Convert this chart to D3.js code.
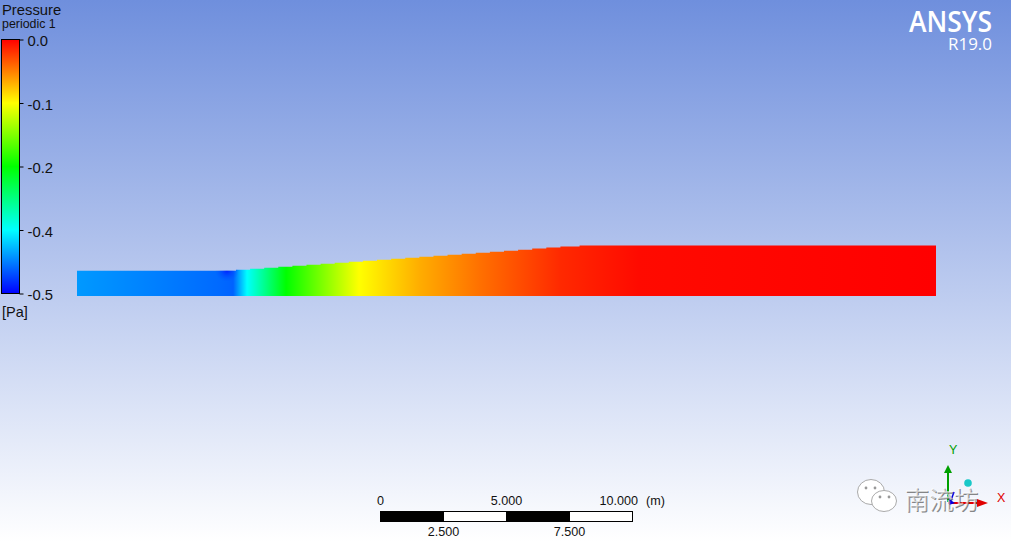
<!DOCTYPE html>
<html>
<head>
<meta charset="utf-8">
<script src="https://cdn.jsdelivr.net/npm/d3@7"></script>
<style>
    html, body { margin: 0; padding: 0; overflow: hidden; }
    text { font-family: "Liberation Sans", Arial, sans-serif; }
</style>
</head>
<body>
<svg id="chart" width="1011" height="542"></svg>
<script>
// pressure along the duct, metres from the inlet
const stationX = [0, 2.9, 5.6, 6.2, 6.5, 6.75, 8.3, 11.2, 13.6, 16, 19.2, 22.3, 34.1];
const stationP = [-0.425, -0.437, -0.448, -0.452, -0.41, -0.375, -0.25, -0.125, -0.085, -0.055, -0.02, -0.005, 0];

// upper wall, the mesh makes it a staircase
const wallX = [0, 6.31, 6.87, 7.43, 7.99, 8.55, 9.11, 9.67, 10.23, 10.79, 11.35, 11.91, 12.47, 13.03, 13.59,
    14.15, 14.71, 15.27, 15.83, 16.39, 16.95, 17.51, 18.07, 18.63, 19.19, 19.95, 34.1];
const wallH = [1, 1.04, 1.08, 1.12, 1.16, 1.2, 1.24, 1.28, 1.32, 1.36, 1.4, 1.44, 1.48, 1.52, 1.56,
    1.6, 1.64, 1.68, 1.72, 1.76, 1.8, 1.84, 1.88, 1.92, 1.96, 2, 2];

// legend
const legendValues = [0, -0.125, -0.25, -0.375, -0.5];
const legendLabels = ['0.0', '-0.1', '-0.2', '-0.4', '-0.5'];
const legendColors = ['#ff0000', '#ffff00', '#00ff00', '#00ffff', '#0000ff'];

// scale bar
const barStops = [0, 2.5, 5, 7.5, 10];
const barTop = ['0', '5.000'];
const barBottom = ['2.500', '7.500'];

const svg = d3.select('#chart');
const defs = svg.append('defs');

const color = d3.scaleLinear().domain(legendValues).range(legendColors).clamp(true);
const xM = d3.scaleLinear().domain([0, 34.1]).range([77, 936]);
const yM = d3.scaleLinear().domain([0, 2]).range([296, 245.6]);
const yLegend = d3.scaleLinear().domain([0, -0.5]).range([39.5, 293.5]);
const xBar = d3.scaleLinear().domain([0, 10]).range([380.5, 632.5]);

// background
const bg = defs.append('linearGradient').attr('id', 'bg').attr('x1', 0).attr('x2', 0).attr('y1', 0).attr('y2', 1);
bg.append('stop').attr('offset', 0).attr('stop-color', '#6f8fdd');
bg.append('stop').attr('offset', 1).attr('stop-color', '#ffffff');
svg.append('rect').attr('width', 1011).attr('height', 542).attr('fill', 'url(#bg)');

// duct contour
const field = defs.append('linearGradient').attr('id', 'field')
    .attr('gradientUnits', 'userSpaceOnUse')
    .attr('x1', xM(0)).attr('x2', xM(34.1)).attr('y1', 0).attr('y2', 0);
field.selectAll('stop').data(stationX).enter().append('stop')
    .attr('offset', d => d / 34.1)
    .attr('stop-color', (d, i) => color(stationP[i]));

const spot = defs.append('radialGradient').attr('id', 'spot');
spot.append('stop').attr('offset', 0).attr('stop-color', '#0018ff').attr('stop-opacity', 0.85);
spot.append('stop').attr('offset', 1).attr('stop-color', '#0050ff').attr('stop-opacity', 0);

const wallPts = wallX.map((d, i) => [d, wallH[i]]);
const duct = d3.area().x(d => xM(d[0])).y0(yM(0)).y1(d => yM(d[1])).curve(d3.curveStepAfter);
defs.append('clipPath').attr('id', 'ductClip').append('path').attr('d', duct(wallPts));

svg.append('path').attr('d', duct(wallPts)).attr('fill', 'url(#field)');
svg.append('ellipse')
    .attr('cx', xM(5.95)).attr('cy', yM(1)).attr('rx', 12).attr('ry', 11)
    .attr('fill', 'url(#spot)').attr('clip-path', 'url(#ductClip)');

// legend bar
const legendGrad = defs.append('linearGradient').attr('id', 'legend').attr('x1', 0).attr('x2', 0).attr('y1', 0).attr('y2', 1);
legendGrad.selectAll('stop').data(legendValues).enter().append('stop')
    .attr('offset', (d, i) => i / (legendValues.length - 1))
    .attr('stop-color', d => color(d));

svg.append('rect')
    .attr('x', 1.5).attr('y', yLegend(0)).attr('width', 18).attr('height', yLegend(-0.5) - yLegend(0))
    .attr('fill', 'url(#legend)').attr('stroke', '#000');

const legendAxis = d3.axisRight(yLegend)
    .tickValues(legendValues)
    .tickFormat((d, i) => legendLabels[i])
    .tickSize(4).tickPadding(4);
const gLegend = svg.append('g').attr('transform', 'translate(19.5,0)').call(legendAxis);
gLegend.select('.domain').remove();
gLegend.selectAll('text').attr('font-size', 14.8).attr('fill', '#111').attr('y', 1.5).style('font-family', '"Liberation Sans"');

svg.append('text').attr('x', 2).attr('y', 15).attr('font-size', 14.8).attr('fill', '#111').text('Pressure');
svg.append('text').attr('x', 2).attr('y', 28).attr('font-size', 12.4).attr('fill', '#111').text('periodic 1');
svg.append('text').attr('x', 2).attr('y', 317).attr('font-size', 14.5).attr('fill', '#111').text('[Pa]');

// logo
svg.append('text').attr('x', 909).attr('y', 32).attr('font-size', 28).attr('font-weight', 600)
    .attr('fill', '#fff').attr('textLength', 83).attr('lengthAdjust', 'spacingAndGlyphs')
    .style('font-family', '"Open Sans"').text('ANSYS');
svg.append('text').attr('x', 948).attr('y', 50).attr('font-size', 16.5)
    .attr('fill', '#fff').attr('textLength', 44).attr('lengthAdjust', 'spacingAndGlyphs')
    .style('font-family', '"Open Sans"').text('R19.0');

// scale bar
const barY = 511.5, barH = 10;
svg.selectAll('.seg').data(barStops.slice(1)).enter().append('rect')
    .attr('class', 'seg')
    .attr('x', (d, i) => xBar(barStops[i]))
    .attr('y', barY)
    .attr('width', (d, i) => xBar(d) - xBar(barStops[i]))
    .attr('height', barH)
    .attr('fill', (d, i) => i % 2 ? '#fff' : '#000')
    .attr('stroke', '#000');

svg.selectAll('.barTop').data(barTop).enter().append('text')
    .attr('class', 'barTop')
    .attr('x', (d, i) => xBar(i * 5))
    .attr('y', 505).attr('font-size', 12.6).attr('fill', '#111').attr('text-anchor', 'middle')
    .text(d => d);
svg.append('text').attr('x', xBar(10) + 5.5).attr('y', 505).attr('font-size', 12.6).attr('fill', '#111')
    .attr('text-anchor', 'end').text('10.000');
svg.append('text').attr('x', 646).attr('y', 505).attr('font-size', 12.6).attr('fill', '#111').text('(m)');
svg.selectAll('.barBottom').data(barBottom).enter().append('text')
    .attr('class', 'barBottom')
    .attr('x', (d, i) => xBar(2.5 + i * 5))
    .attr('y', 536).attr('font-size', 12.6).attr('fill', '#111').attr('text-anchor', 'middle')
    .text(d => d);

// triad
const triad = svg.append('g');
triad.append('line').attr('x1', 948).attr('y1', 502).attr('x2', 948).attr('y2', 473)
    .attr('stroke', '#00a000').attr('stroke-width', 2);
triad.append('path').attr('d', 'M948,465L944,473L952,473Z').attr('fill', '#00a000');
triad.append('line').attr('x1', 948).attr('y1', 503).attr('x2', 978).attr('y2', 503)
    .attr('stroke', '#e00000').attr('stroke-width', 2);
triad.append('path').attr('d', 'M988,503L977,499L977,507Z').attr('fill', '#e00000');
triad.append('line').attr('x1', 954).attr('y1', 492).attr('x2', 950).attr('y2', 503)
    .attr('stroke', '#0000e0').attr('stroke-width', 1.5);
triad.append('path').attr('d', 'M949,499L955,503L949,505Z').attr('fill', '#0000e0');
triad.append('circle').attr('cx', 968).attr('cy', 483).attr('r', 3.8).attr('fill', '#18c8c8');
triad.append('text').attr('x', 949).attr('y', 454).attr('font-size', 12.5).attr('fill', '#00a000').text('Y');
triad.append('text').attr('x', 997).attr('y', 502).attr('font-size', 12.5).attr('fill', '#e00000').text('X');

// watermark sits over the triad
const wm = svg.append('g');
[[871, 492, 13.5, 12.5], [884, 501, 12.5, 10.5]].forEach(b => {
    wm.append('ellipse').attr('cx', b[0]).attr('cy', b[1]).attr('rx', b[2]).attr('ry', b[3])
        .attr('fill', '#fff').attr('stroke', '#aaa').attr('stroke-width', 1);
});
[[866, 488], [875, 488], [880, 497], [889, 497]].forEach(e => {
    wm.append('circle').attr('cx', e[0]).attr('cy', e[1]).attr('r', 1.4).attr('fill', '#999');
});
wm.append('text').attr('x', 905.5).attr('y', 509.5).attr('font-size', 24.5)
    .attr('fill', '#666').attr('fill-opacity', 0.8).style('font-family', '"Noto Sans CJK SC"').text('南流坊');
wm.append('text').attr('x', 904.5).attr('y', 508.5).attr('font-size', 24.5)
    .attr('fill', '#fff').attr('fill-opacity', 0.6).style('font-family', '"Noto Sans CJK SC"').text('南流坊');
</script>
</body>
</html>
